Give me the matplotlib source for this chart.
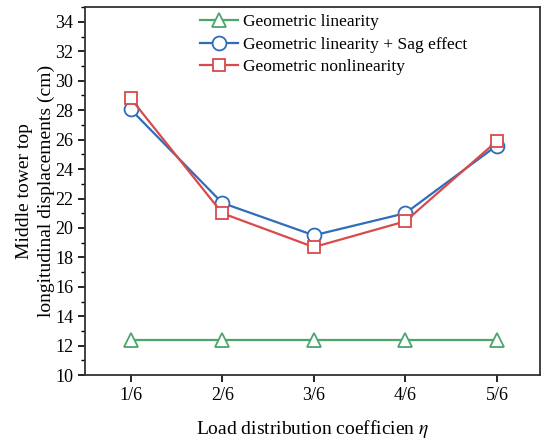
import matplotlib
matplotlib.use("Agg")
import matplotlib.pyplot as plt
from matplotlib.ticker import MultipleLocator

plt.rcParams["font.family"] = ["Liberation Serif", "DejaVu Serif"]
plt.rcParams["mathtext.fontset"] = "stix"

eta_labels = ["1/6", "2/6", "3/6", "4/6", "5/6"]
geo_linear = [12.4, 12.4, 12.4, 12.4, 12.4]
geo_linear_sag = [28.05, 21.7, 19.5, 21.0, 25.6]
geo_nonlinear = [28.8, 21.0, 18.7, 20.45, 25.9]

x = list(range(1, len(eta_labels) + 1))

fig = plt.figure(figsize=(5.41, 4.44), dpi=100)
ax = fig.add_axes([0.157, 0.155, 0.841, 0.829])

ax.plot(x, geo_linear, color="#4aa66a", marker="^", markersize=10, markerfacecolor="white",
        markeredgewidth=1.3, linewidth=1.6, label="Geometric linearity")
ax.plot(x, geo_linear_sag, color="#2f6db8", marker="o", markersize=10, markerfacecolor="white",
        markeredgewidth=1.3, linewidth=1.6, label="Geometric linearity + Sag effect")
ax.plot(x, geo_nonlinear, color="#d84a4c", marker="s", markersize=9, markerfacecolor="white",
        markeredgewidth=1.3, linewidth=1.6, label="Geometric nonlinearity")

ax.set_xlim(0.5, 5.47)
ax.set_ylim(10, 35)
ax.set_xticks(x)
ax.set_xticklabels(eta_labels)
ax.yaxis.set_major_locator(MultipleLocator(2))
ax.yaxis.set_minor_locator(MultipleLocator(1))
ax.tick_params(axis="both", which="major", direction="out", length=5, width=1.2, labelsize=13)
ax.tick_params(axis="y", which="minor", direction="out", length=3, width=1)
for s in ax.spines.values():
    s.set_linewidth(1.3)
    s.set_color("#333333")

ax.set_xlabel(r"Load distribution coefficien $\eta$", fontsize=14, labelpad=10)
ax.set_ylabel("Middle tower top\nlongitudinal displacements (cm)", fontsize=14, labelpad=0,
              linespacing=1.35)

ax.legend(loc="upper left", bbox_to_anchor=(0.253, 0.982), frameon=False, fontsize=12.5,
          handlelength=2.2, handletextpad=0.3, labelspacing=0.38, borderpad=0, borderaxespad=0)

fig.savefig("out.png", dpi=100)
